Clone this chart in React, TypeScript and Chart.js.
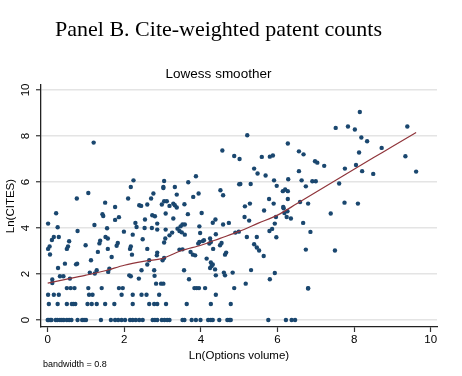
import React, { useEffect, useRef } from "react";
import { Chart, registerables } from "chart.js";

Chart.register(...registerables);

// Ln(Options volume) for firm-years with zero cite-weighted patents
const zeroRowX = [0, 0.03, 0.07, 0.1, 0.21, 0.25, 0.32, 0.37, 0.42, 0.5, 0.56, 0.62, 0.78, 0.9, 0.95, 1.0, 1.39, 1.65, 1.76, 1.84, 1.93, 2.02, 2.15, 2.22, 2.3, 2.39, 2.48, 2.74, 2.8, 2.86, 2.98, 3.05, 3.12, 3.18, 3.52, 3.57, 3.76, 3.87, 3.99, 4.19, 4.26, 4.31, 4.48, 4.69, 4.74, 4.78, 5.76, 6.22, 6.37, 6.46];
// Ln(2) row
const ln2RowX = [0.03, 0.26, 0.5, 0.63, 0.67, 0.72, 1.04, 1.15, 1.28, 1.5, 1.74, 2.22, 2.65, 2.78, 2.86, 3.09, 3.63, 4.26, 4.78];
// Ln(3) row
const ln3RowX = [0.01, 0.16, 0.29, 1.08, 1.17, 1.93, 2.22, 2.45, 2.58, 2.91, 4.39];
// Ln(4) row
const ln4RowX = [0.5, 0.6, 0.7, 1.06, 1.41, 1.86, 1.96, 3.83, 3.89, 3.95, 4.11, 4.87, 6.8];

// Remaining observations: [Ln(Options volume), Ln(CITES)]
const otherPoints: [number, number][] = [
  [1.2, 7.71], [2.24, 6.07], [2.17, 5.78], [2.1, 5.28], [1.06, 5.52], [0.76, 5.28], [1.5, 5.1], [1.76, 4.91],
  [0.22, 4.64], [1.43, 4.6], [1.45, 4.52], [1.86, 4.47], [1.76, 4.35], [0.01, 4.19], [1.22, 4.13], [0.26, 4.03],
  [2.29, 4.22], [2.32, 4.04], [1.55, 3.99], [0.78, 3.87], [1.99, 3.84], [0.16, 3.61], [0.11, 3.48], [0.29, 3.61],
  [0.05, 3.2], [0.01, 3.09], [0.56, 3.42], [0.53, 3.2], [0.5, 3.09], [0.99, 3.25], [1.37, 3.45], [1.35, 3.33],
  [1.51, 3.61], [1.57, 3.54], [1.83, 3.35], [1.8, 3.23], [1.57, 3.09], [2.17, 3.2], [2.15, 3.09], [2.22, 3.71],
  [2.39, 4.99],
  [0.06, 2.85], [1.31, 2.96], [1.67, 2.74], [2.2, 2.84], [1.13, 2.6], [0.45, 2.45], [0.74, 2.42], [0.77, 2.45],
  [0.27, 2.26], [1.61, 2.23], [1.58, 2.09], [1.28, 2.16], [1.23, 2.02], [1.1, 2.06], [2.17, 1.9], [2.13, 1.94],
  [2.38, 1.8], [0.32, 1.9], [0.41, 1.9], [0.12, 1.76], [0.12, 1.61], [0.58, 1.8],
  [3.87, 6.25], [3.04, 6.04], [3.67, 5.99], [3.02, 5.78], [3.02, 5.74], [3.32, 5.78], [5.0, 5.9], [2.76, 5.5],
  [3.37, 5.45], [3.94, 5.5], [3.8, 5.35], [4.51, 5.64], [4.58, 5.42], [2.7, 5.28], [3.04, 5.16], [3.11, 5.16],
  [2.98, 5.02], [3.28, 5.06], [3.32, 4.99], [3.18, 4.96], [3.37, 4.89], [2.6, 5.02], [2.44, 4.96], [3.57, 5.03],
  [3.08, 4.63], [3.66, 4.6], [4.02, 4.65], [2.73, 4.55], [2.8, 4.51], [3.28, 4.41], [2.54, 4.37], [4.38, 4.37],
  [4.31, 4.23], [4.73, 4.22], [4.58, 4.15], [2.86, 4.19], [3.52, 4.15], [3.58, 4.15], [3.47, 4.07], [3.96, 4.07],
  [2.53, 4.0], [2.72, 4.0], [2.86, 3.93], [3.08, 3.93], [3.39, 3.97], [3.44, 3.87], [3.5, 3.81], [3.25, 3.8],
  [3.18, 3.68], [3.58, 3.71], [3.98, 3.78], [4.39, 3.73], [4.9, 3.8], [4.99, 3.84], [2.48, 3.51], [3.07, 3.54],
  [3.04, 3.37], [3.96, 3.39], [3.93, 3.32], [4.05, 3.43], [4.08, 3.47], [4.24, 3.54], [4.26, 3.39], [4.22, 3.32],
  [4.5, 3.25], [4.54, 3.35], [2.6, 3.09], [3.44, 3.06], [3.52, 3.07], [4.32, 3.09],
  [2.86, 2.93], [2.85, 2.81], [3.0, 2.6], [3.04, 2.7], [2.6, 2.41], [2.65, 2.6], [3.73, 2.96], [3.79, 2.84],
  [3.85, 2.81], [4.15, 2.67], [4.66, 2.93], [4.63, 2.84], [4.26, 2.5], [4.31, 2.41], [4.28, 2.35], [4.24, 2.26],
  [4.37, 2.2], [4.6, 2.06], [4.63, 1.94], [4.83, 2.06], [2.45, 2.16], [2.78, 2.16], [2.79, 1.92], [3.56, 2.16],
  [2.83, 1.58], [2.96, 1.58], [3.02, 1.58], [3.69, 1.77], [4.39, 1.94],
  [5.21, 8.03], [4.56, 7.37], [4.87, 7.13], [5.01, 7.0], [6.27, 7.67], [5.39, 6.58], [5.48, 6.37], [5.59, 7.09],
  [5.8, 7.1], [5.88, 7.15], [5.69, 6.28], [5.91, 6.07], [5.98, 5.83], [6.28, 6.12], [6.14, 5.6], [6.2, 5.67],
  [6.27, 5.6], [5.03, 5.91], [5.3, 5.91], [5.15, 4.94], [5.28, 5.06], [5.14, 4.48], [5.65, 4.76], [5.78, 5.26],
  [5.9, 5.06], [6.15, 4.91], [6.16, 4.86], [6.27, 5.26], [6.26, 4.73], [6.18, 4.65], [5.96, 4.48], [6.24, 4.48],
  [6.56, 7.33], [6.68, 7.2], [6.98, 6.9], [7.04, 6.84], [7.22, 6.7], [7.76, 6.58], [6.56, 6.47], [6.63, 6.07],
  [6.91, 6.03], [7.0, 6.03], [6.74, 5.81], [7.61, 5.93], [6.59, 5.13], [6.8, 5.06], [7.75, 5.1], [6.35, 4.41],
  [5.26, 4.32], [7.39, 4.63], [6.67, 4.22], [5.93, 4.19], [5.86, 3.96], [5.79, 3.87], [6.86, 3.83], [5.97, 3.6],
  [5.2, 3.61], [5.46, 3.61], [5.39, 3.29], [5.46, 3.15], [5.52, 3.02], [5.64, 2.78], [6.74, 3.06], [7.5, 3.02],
  [5.31, 2.17], [5.93, 2.04], [5.17, 1.58], [5.8, 1.77], [6.8, 1.37],
  [8.15, 9.04], [7.52, 8.35], [7.84, 8.41], [8.02, 8.28], [9.39, 8.41], [8.19, 7.93], [8.34, 7.77], [8.72, 7.48],
  [8.13, 7.28], [9.34, 7.12], [8.05, 6.74], [8.21, 6.47], [8.5, 6.35], [9.62, 6.45], [8.1, 5.06],
];

const lowessX = [0, 0.5, 1, 1.5, 2, 2.5, 3, 3.5, 4, 4.5, 5, 5.5, 6, 6.5, 7, 7.5, 8, 8.5, 9, 9.62];
const lowessY = [1.6, 1.78, 1.95, 2.14, 2.38, 2.55, 2.68, 3.02, 3.25, 3.55, 3.85, 4.21, 4.56, 5.05, 5.55, 6.05, 6.55, 7.05, 7.54, 8.15];

const xTicks = [0, 2, 4, 6, 8, 10];
const yTicks = [0, 2, 4, 6, 8, 10];

const SANS = '"Liberation Sans", Arial, Helvetica, sans-serif';

const bandwidthNote = {
  id: "bandwidthNote",
  afterDraw(chart: any) {
    const ctx = chart.ctx;
    ctx.save();
    ctx.font = `9px ${SANS}`;
    ctx.fillStyle = "#000";
    ctx.textBaseline = "middle";
    ctx.textAlign = "left";
    ctx.fillText("bandwidth = 0.8", 43, 365);
    ctx.restore();
  },
};

export default function App() {
  const canvasRef = useRef<HTMLCanvasElement | null>(null);

  useEffect(() => {
    if (!canvasRef.current) return;
    const scatter = [
      ...zeroRowX.map((x) => ({ x, y: 0 })),
      ...ln2RowX.map((x) => ({ x, y: Math.log(2) })),
      ...ln3RowX.map((x) => ({ x, y: Math.log(3) })),
      ...ln4RowX.map((x) => ({ x, y: Math.log(4) })),
      ...otherPoints.map(([x, y]) => ({ x, y })),
    ];
    const lowess = lowessX.map((x, i) => ({ x, y: lowessY[i] }));

    const chart = new Chart(canvasRef.current, {
      type: "scatter",
      data: {
        datasets: [
          {
            type: "line",
            label: "Lowess",
            data: lowess,
            borderColor: "#90353b",
            borderWidth: 1.2,
            pointRadius: 0,
            tension: 0.3,
            fill: false,
          },
          {
            label: "Ln(CITES)",
            data: scatter,
            backgroundColor: "#1a476f",
            borderWidth: 0,
            pointRadius: 2.2,
          },
        ],
      },
      options: {
        animation: false,
        responsive: false,
        layout: { padding: { left: 0, right: 25, top: 0, bottom: 0 } },
        plugins: {
          legend: { display: false },
          tooltip: { enabled: false },
          title: {
            display: true,
            text: "Panel B. Cite-weighted patent counts",
            color: "#000",
            font: { family: '"Liberation Serif", "DejaVu Serif", serif', size: 22, weight: "normal" },
            padding: { top: 17, bottom: 12 },
          },
          subtitle: {
            display: true,
            text: "Lowess smoother",
            color: "#000",
            font: { family: SANS, size: 13.5, weight: "normal" },
            padding: { top: 10.5, bottom: 3 },
          },
        },
        scales: {
          x: {
            type: "linear",
            min: -0.175,
            max: 10.165,
            afterBuildTicks: (s: any) => {
              s.ticks = xTicks.map((v) => ({ value: v }));
            },
            afterFit: (s: any) => {
              s.height = 49;
            },
            grid: { drawOnChartArea: false, tickColor: "#333", tickLength: 5, tickWidth: 1.2 },
            border: { color: "#222", width: 1.3 },
            ticks: { color: "#000", font: { family: SANS, size: 11.5 }, padding: 1, maxRotation: 0 },
            title: {
              display: true,
              text: "Ln(Options volume)",
              color: "#000",
              font: { family: SANS, size: 11.5 },
              padding: { top: 0, bottom: 13 },
            },
          },
          y: {
            type: "linear",
            min: -0.304,
            max: 10.21,
            afterBuildTicks: (s: any) => {
              s.ticks = yTicks.map((v) => ({ value: v }));
            },
            afterFit: (s: any) => {
              s.width = 41;
            },
            grid: { color: "#e4e4e4", lineWidth: 1.5, tickColor: "#333", tickLength: 5, tickWidth: 1.2 },
            border: { color: "#222", width: 1.3 },
            ticks: {
              color: "#000",
              font: { family: SANS, size: 11.5 },
              minRotation: 90,
              maxRotation: 90,
              crossAlign: "center",
              padding: 4,
            },
            title: {
              display: true,
              text: "Ln(CITES)",
              color: "#000",
              font: { family: SANS, size: 11.5 },
              padding: { top: 4, bottom: 0 },
            },
          },
        },
      },
      plugins: [bandwidthNote],
    } as any);

    return () => chart.destroy();
  }, []);

  return (
    <div style={{ position: "fixed", left: 0, top: 0, width: 462, height: 376, background: "#fff" }}>
      <canvas ref={canvasRef} width={462} height={376} />
    </div>
  );
}
